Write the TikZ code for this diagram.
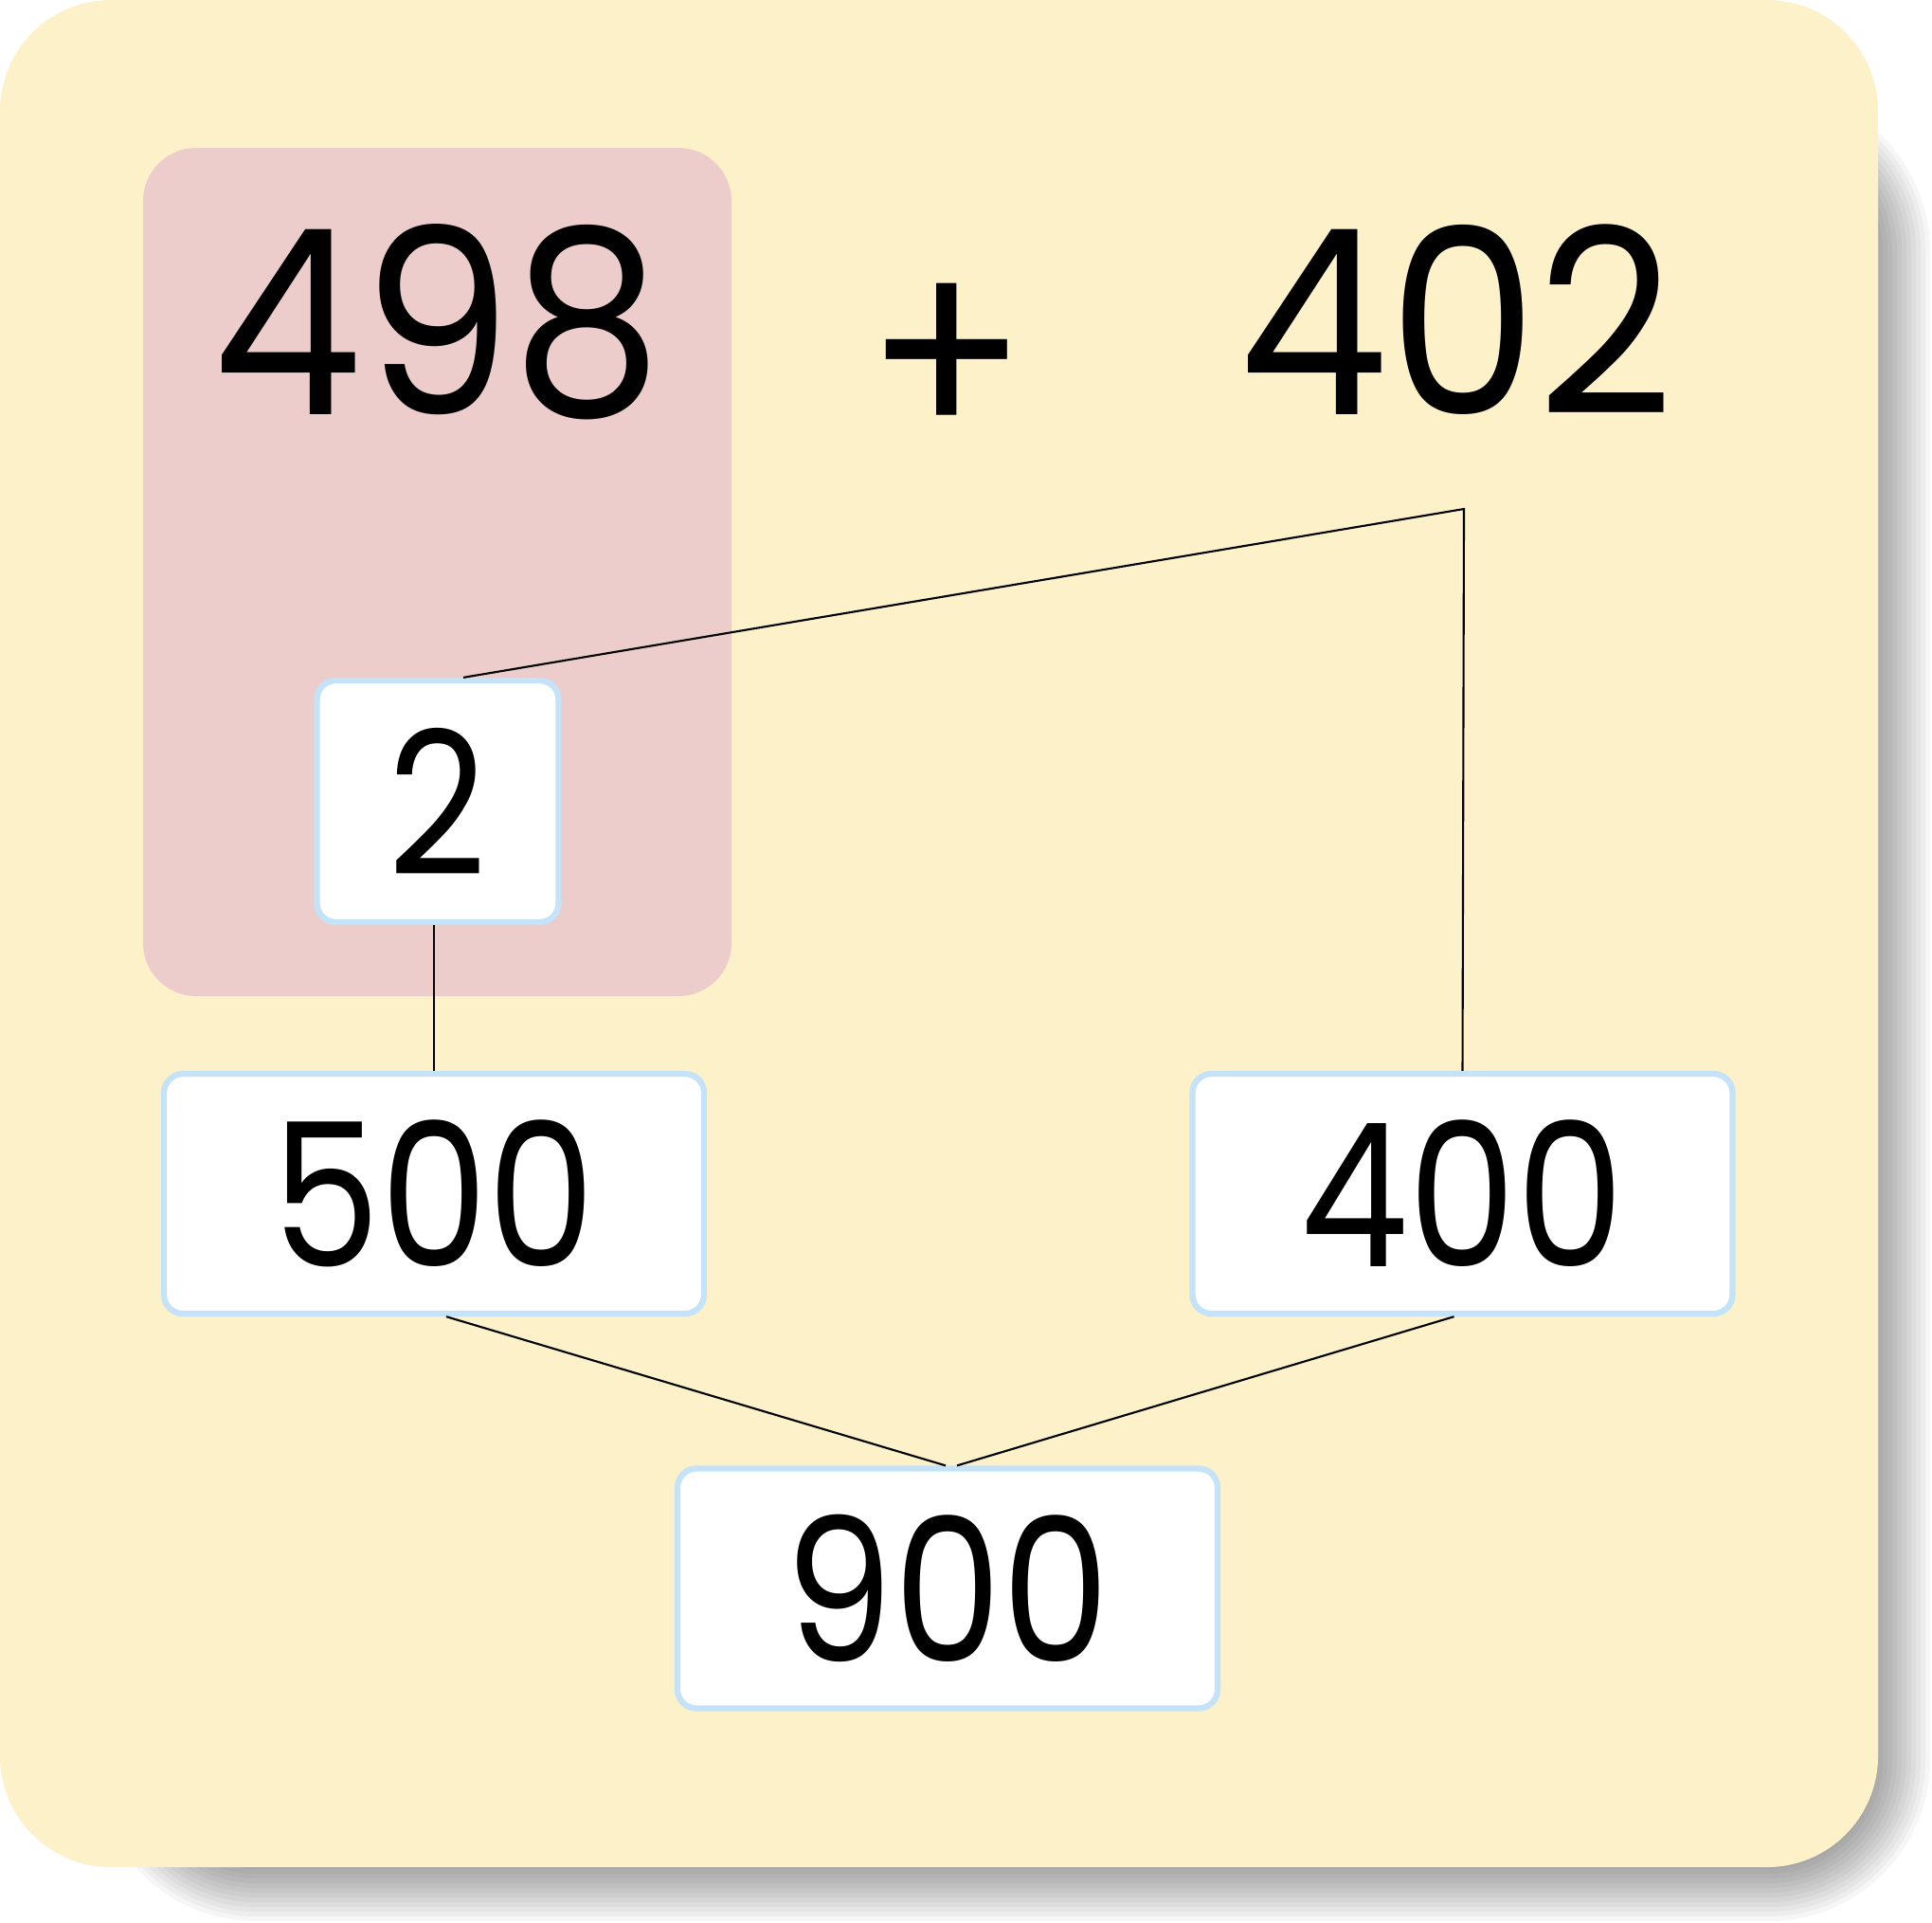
\documentclass[tikz,border=0pt]{standalone}
\usepackage{fontspec}
\setmainfont{Poppins}
\newfontfamily\bigfont{Poppins}[FakeStretch=0.92]
\newfontfamily\boxfont{Poppins}[FakeStretch=0.86]
\usepackage{tikz}
\usetikzlibrary{positioning}
\definecolor{cardyellow}{HTML}{FDF1C9}
\definecolor{markpink}{HTML}{EDCDCB}
\definecolor{boxblue}{HTML}{C4E3F8}
\tikzset{
  numbox/.style={rectangle, draw=boxblue, line width=1.8pt, fill=white, rounded corners=0.2cm, minimum width=5.7cm, minimum height=2.53cm, inner sep=0pt, align=center, font=\boxfont\fontsize{60}{70}\selectfont},
  bignum/.style={inner sep=0pt, anchor=base, font=\bigfont\fontsize{77.6}{90}\selectfont},
  link/.style={line width=0.6pt},
}
\begin{document}
\begin{tikzpicture}
  \useasboundingbox (0,0) rectangle (20.39,-20.28);
  % soft shadow
  \foreach \i in {0,...,11} {
    \pgfmathsetmacro\r{1.7-\i*0.05}
    \fill[black, opacity=0.035, rounded corners=\r cm]
      (1.0+\i*0.05,-0.95-\i*0.05) rectangle (20.37-\i*0.05,-20.27+\i*0.05);
  }
  \fill[cardyellow, rounded corners=1.17cm] (0,0) rectangle (19.82,-19.70);
  \fill[markpink, rounded corners=0.56cm] (1.51,-1.56) rectangle (7.72,-10.51);

  \node[bignum] (first) at (4.62,-4.37) {498};
  \node[bignum, anchor=center] (plus) at (9.99,-3.84) {+};
  \node[bignum] (second) at (15.37,-4.37) {402};

  \node[numbox, minimum width=2.55cm, minimum height=2.55cm] (two) at (4.62,-8.455) {2};
  \node[numbox] (five) at (4.58,-12.595) {500};
  \node[numbox] (four) at (15.435,-12.595) {400};
  \node[numbox] (nine) at (10.0,-16.76) {900};

  \coordinate (split) at (15.45,-5.37);

  \draw[link] ([xshift=0.27cm]two.north) -- (split) -- (four.north);
  \draw[link] (five.north |- two.south) -- (five.north);
  \draw[link] ([xshift=0.13cm]five.south) -- ([xshift=-0.02cm]nine.north);
  \draw[link] ([xshift=-0.09cm]four.south) -- ([xshift=0.1cm]nine.north);
\end{tikzpicture}
\end{document}
